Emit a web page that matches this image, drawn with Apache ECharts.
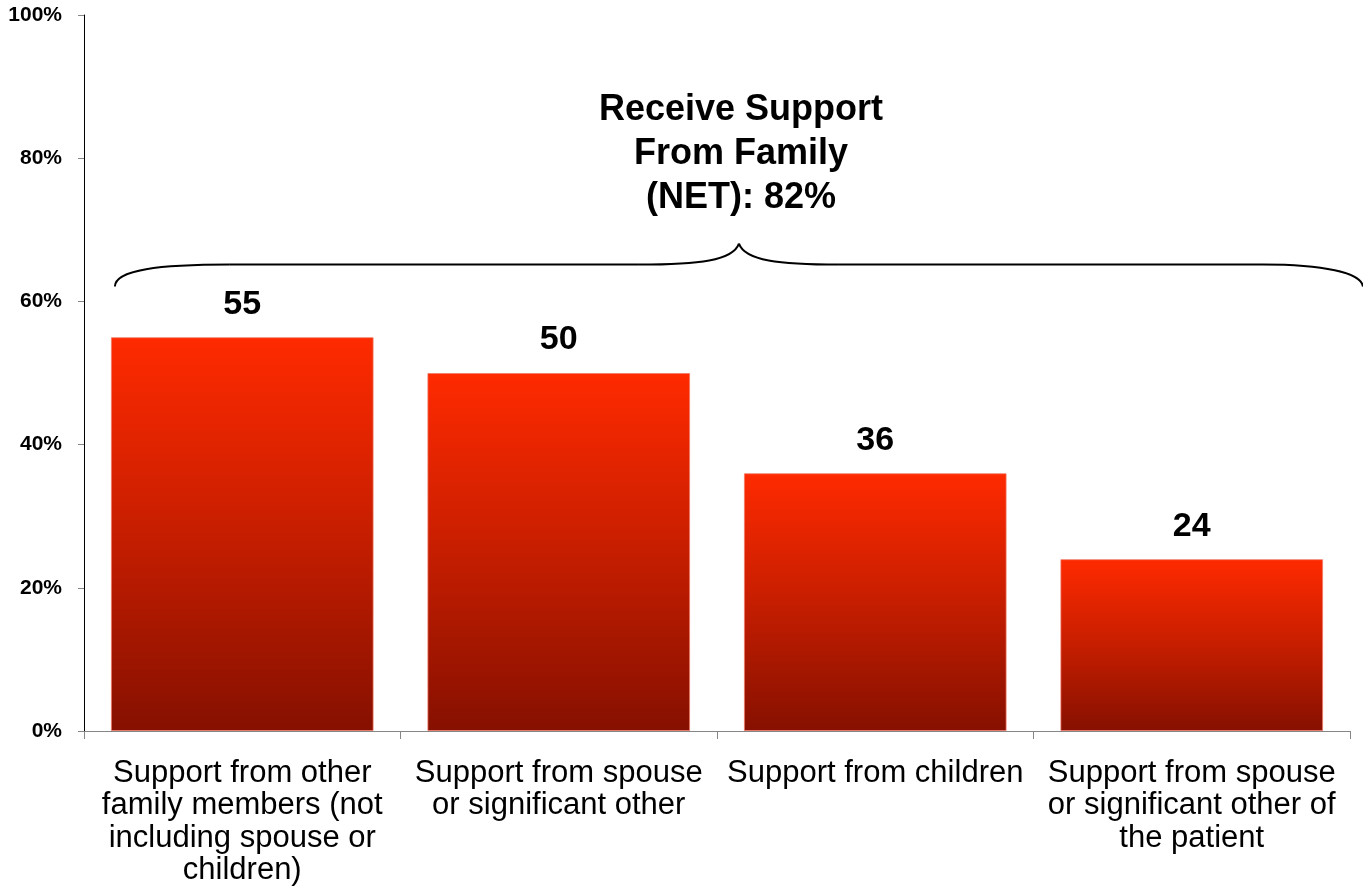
<!DOCTYPE html>
<html>
<head>
<meta charset="utf-8">
<title>Receive Support From Family</title>
<script src="https://cdn.jsdelivr.net/npm/echarts@6/dist/echarts.min.js"></script>
<style>
  html, body { margin: 0; padding: 0; background: #ffffff; }
  #chart { width: 1363px; height: 895px; }
</style>
</head>
<body>
<div id="chart"></div>
<script>
// Support sources and share of respondents (%)
const categories = [
  'Support from other\nfamily members (not\nincluding spouse or\nchildren)',
  'Support from spouse\nor significant other',
  'Support from children',
  'Support from spouse\nor significant other of\nthe patient'
];
const values = [55, 50, 36, 24];
const yTicks = [0, 20, 40, 60, 80, 100];
const netLabel = ['Receive Support', 'From Family', '(NET): 82%'];
const netBraceLevel = 65; // height of the brace on the % axis

const FONT = '"Liberation Sans", Arial, Helvetica, sans-serif';

const chart = echarts.init(document.getElementById('chart'), null, { renderer: 'canvas' });

const barGradient = new echarts.graphic.LinearGradient(0, 0, 0, 1, [
  { offset: 0, color: '#ff2a00' },
  { offset: 0.45, color: '#cc1f00' },
  { offset: 1, color: '#861000' }
]);

chart.setOption({
  animation: false,
  backgroundColor: '#ffffff',
  grid: { left: 84, right: 13, top: 15, bottom: 164, containLabel: false },
  xAxis: {
    type: 'category',
    data: categories,
    boundaryGap: true,
    axisLine: { show: true, lineStyle: { color: '#868686', width: 1 } },
    axisTick: { show: true, length: 8, alignWithLabel: false, lineStyle: { color: '#868686' } },
    axisLabel: {
      interval: 0,
      margin: 26,
      color: '#000000',
      fontFamily: FONT,
      fontSize: 31,
      lineHeight: 32.5,
      align: 'center'
    }
  },
  yAxis: {
    type: 'value',
    min: yTicks[0],
    max: yTicks[yTicks.length - 1],
    interval: yTicks[1] - yTicks[0],
    axisLine: { show: true, lineStyle: { color: '#000000', width: 1 } },
    axisTick: { show: true, length: 6, lineStyle: { color: '#868686' } },
    splitLine: { show: false },
    axisLabel: {
      margin: 22,
      color: '#000000',
      fontFamily: FONT,
      fontWeight: 'bold',
      fontSize: 21,
      formatter: v => v + '%'
    }
  },
  series: [{
    type: 'bar',
    data: values,
    barWidth: '83%',
    itemStyle: {
      color: barGradient,
      borderColor: 'rgba(240,120,100,0.75)',
      borderWidth: 1
    },
    label: {
      show: true,
      position: 'top',
      distance: 16,
      color: '#000000',
      fontFamily: FONT,
      fontWeight: 'bold',
      fontSize: 34
    }
  }]
});

// Curly brace spanning all categories, with the NET label above its tip
function drawBrace() {
  const axis = chart.getModel().getComponent('xAxis', 0).axis;
  const band = axis.getBandWidth();
  const half = band * 0.83 / 2;
  const L = chart.convertToPixel({ xAxisIndex: 0 }, 0) - half + 4;
  const R = chart.convertToPixel({ xAxisIndex: 0 }, categories.length - 1) + band / 2 + 13;
  const Y = chart.convertToPixel({ yAxisIndex: 0 }, netBraceLevel) - 1;
  const M = (L + R) / 2;
  const tipH = 21, endH = 22;
  const style = { stroke: '#000000', lineWidth: 2, fill: null };
  const els = [
    { type: 'bezierCurve', shape: { x1: L, y1: Y + endH, cpx1: L, cpy1: Y + 5, cpx2: L + 45, cpy2: Y, x2: L + 115, y2: Y }, style },
    { type: 'line', shape: { x1: L + 115, y1: Y, x2: M - 100, y2: Y }, style },
    { type: 'bezierCurve', shape: { x1: M - 100, y1: Y, cpx1: M - 40, cpy1: Y, cpx2: M - 6, cpy2: Y - 4, x2: M, y2: Y - tipH }, style },
    { type: 'bezierCurve', shape: { x1: M, y1: Y - tipH, cpx1: M + 6, cpy1: Y - 4, cpx2: M + 40, cpy2: Y, x2: M + 100, y2: Y }, style },
    { type: 'line', shape: { x1: M + 100, y1: Y, x2: R - 100, y2: Y }, style },
    { type: 'bezierCurve', shape: { x1: R - 100, y1: Y, cpx1: R - 40, cpy1: Y, cpx2: R - 2, cpy2: Y + 8, x2: R, y2: Y + endH }, style },
    {
      type: 'text',
      x: M + 2,
      y: Y - tipH - 24,
      style: {
        text: netLabel.join('\n'),
        fill: '#000000',
        font: 'bold 36px ' + FONT,
        lineHeight: 44,
        align: 'center',
        verticalAlign: 'bottom'
      }
    }
  ];
  chart.setOption({ graphic: { elements: els } });
}
drawBrace();
</script>
</body>
</html>
